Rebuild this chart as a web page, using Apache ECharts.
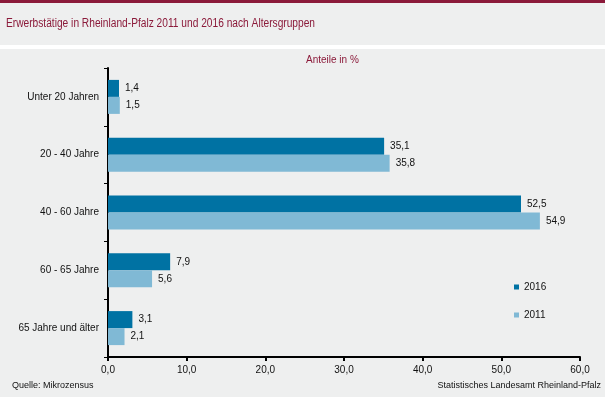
<!DOCTYPE html>
<html><head><meta charset="utf-8">
<script src="https://cdn.jsdelivr.net/npm/echarts@6/dist/echarts.min.js"></script>
<style>html,body{margin:0;padding:0;background:#fff}#c{width:605px;height:397px}</style>
</head><body><div id="c"></div>
<script>
const categories = ['Unter 20 Jahren', '20 - 40 Jahre', '40 - 60 Jahre', '60 - 65 Jahre', '65 Jahre und älter'];
const values2016 = [1.4, 35.1, 52.5, 7.9, 3.1];
const values2011 = [1.5, 35.8, 54.9, 5.6, 2.1];
const seriesNames = ['2016', '2011'];
const xTicks = {min: 0, max: 60, interval: 10};

const fmt = v => v.toFixed(1).replace('.', ',');
const FONT = 'Liberation Sans, Arial, sans-serif';
const chart = echarts.init(document.getElementById('c'), null, {renderer: 'canvas'});
chart.setOption({
  animation: false,
  backgroundColor: '#eeefef',
  textStyle: {fontFamily: FONT},
  graphic: [
    {type: 'rect', shape: {x: 0, y: 0, width: 605, height: 3}, style: {fill: '#8b1a3a'}, silent: true},
    {type: 'rect', shape: {x: 0, y: 45, width: 605, height: 4}, style: {fill: '#ffffff'}, silent: true},
    {type: 'text', x: 6, y: 17, scaleX: 0.815, style: {text: 'Erwerbstätige in Rheinland-Pfalz 2011 und 2016 nach Altersgruppen', fill: '#8b1a3a', font: '12.5px ' + FONT, textVerticalAlign: 'top'}},
    {type: 'text', left: 306, top: 55, style: {text: 'Anteile in %', fill: '#8b1a3a', font: '10px ' + FONT}},
    {type: 'text', left: 12, top: 381, style: {text: 'Quelle: Mikrozensus', fill: '#111', font: '9px ' + FONT}},
    {type: 'text', right: 4, top: 381, style: {text: 'Statistisches Landesamt Rheinland-Pfalz', fill: '#111', font: '9px ' + FONT}}
  ],
  legend: {
    orient: 'vertical', left: 509, top: 277, itemGap: 18, itemWidth: 5, itemHeight: 5,
    icon: 'rect', textStyle: {fontSize: 10, color: '#111', fontFamily: FONT},
    data: seriesNames
  },
  grid: {left: 108, right: 25, top: 68, bottom: 40, containLabel: false},
  xAxis: {
    type: 'value', min: xTicks.min, max: xTicks.max, interval: xTicks.interval,
    axisLine: {show: true, lineStyle: {color: '#000', width: 2}},
    axisTick: {show: true, length: 4, lineStyle: {color: '#000', width: 2}},
    axisLabel: {formatter: v => fmt(v), color: '#111', fontSize: 10, margin: 8},
    splitLine: {show: false}
  },
  yAxis: {
    type: 'category', data: categories, inverse: true,
    axisLine: {show: true, lineStyle: {color: '#000', width: 2}},
    axisTick: {show: true, length: 4, lineStyle: {color: '#000', width: 1}},
    axisLabel: {color: '#111', fontSize: 10, margin: 9}
  },
  series: [
    {name: seriesNames[0], type: 'bar', data: values2016, barWidth: 17, barGap: '0%',
     itemStyle: {color: '#0072a3'},
     label: {show: true, position: 'right', formatter: p => fmt(p.value), color: '#111', fontSize: 10, distance: 6}},
    {name: seriesNames[1], type: 'bar', data: values2011, barWidth: 17, barGap: '0%',
     itemStyle: {color: '#80b9d5'},
     label: {show: true, position: 'right', formatter: p => fmt(p.value), color: '#111', fontSize: 10, distance: 6}}
  ]
});
</script></body></html>
